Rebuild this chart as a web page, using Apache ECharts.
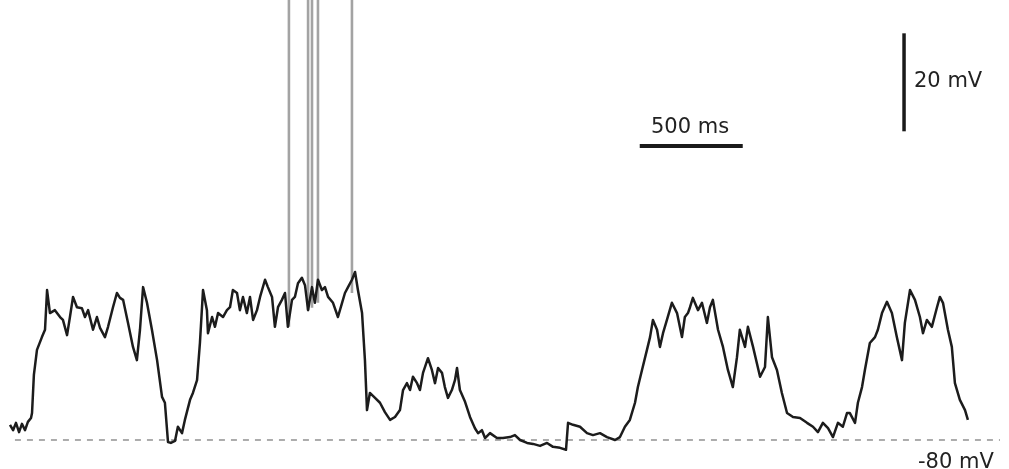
<!DOCTYPE html>
<html>
<head>
<meta charset="utf-8">
<script src="https://cdn.jsdelivr.net/npm/echarts@6/dist/echarts.min.js"></script>
<style>
  html, body { margin: 0; padding: 0; background: #ffffff; }
  #chart { width: 1009px; height: 469px; }
</style>
</head>
<body>
<div id="chart"></div>
<script>
// Membrane potential recording: sample times (ms) and voltage (mV)
const timeMs = [
  0, 15, 29, 44, 58, 73, 87, 102, 107, 116, 131, 155, 170, 180, 194, 218, 243, 257, 277, 291,
  306, 325, 349, 364, 379, 403, 422, 437, 461, 476, 500, 519, 534, 549, 573, 597, 616, 631, 646, 665,
  689, 714, 738, 752, 767, 781, 801, 815, 835, 849, 874, 888, 908, 922, 937, 956, 961, 981, 995, 1010,
  1034, 1053, 1068, 1082, 1102, 1116, 1131, 1150, 1165, 1180, 1199, 1214, 1238, 1252, 1272, 1286, 1301, 1320, 1335, 1349,
  1369, 1383, 1398, 1417, 1432, 1447, 1466, 1480, 1495, 1514, 1529, 1544, 1568, 1592, 1612, 1626, 1641, 1660, 1675, 1689,
  1709, 1723, 1733, 1747, 1772, 1796, 1820, 1845, 1869, 1893, 1908, 1927, 1942, 1956, 1976, 1990, 2005, 2029, 2048, 2063,
  2078, 2097, 2111, 2126, 2145, 2160, 2170, 2184, 2209, 2233, 2257, 2272, 2291, 2306, 2330, 2364, 2393, 2427, 2451, 2476,
  2510, 2539, 2573, 2607, 2636, 2670, 2699, 2709, 2733, 2767, 2801, 2830, 2864, 2898, 2937, 2961, 2985, 3009, 3034, 3048,
  3068, 3092, 3107, 3121, 3141, 3155, 3170, 3189, 3213, 3238, 3262, 3276, 3291, 3301, 3315, 3340, 3359, 3383, 3398, 3412,
  3437, 3461, 3485, 3509, 3529, 3543, 3568, 3582, 3607, 3641, 3665, 3679, 3699, 3723, 3747, 3772, 3801, 3835, 3869, 3898,
  3922, 3946, 3971, 3995, 4019, 4043, 4063, 4077, 4102, 4116, 4136, 4150, 4174, 4199, 4213, 4233, 4257, 4281, 4305, 4330,
  4344, 4369, 4393, 4417, 4432, 4451, 4475, 4500, 4514, 4529, 4553, 4572, 4587, 4611, 4636, 4650
];
const potentialMv = [
  -76.9, -78.0, -76.5, -78.4, -76.7, -78.0, -76.3, -75.5, -74.5, -66.7, -61.6, -59.0, -57.5, -49.4, -54.1, -53.5, -54.9, -55.5, -58.6, -54.9,
  -50.8, -52.9, -53.1, -54.9, -53.5, -57.5, -54.9, -57.1, -59.0, -56.9, -52.9, -50.0, -51.0, -51.4, -56.1, -61.0, -63.7, -57.5, -48.8, -52.0,
  -57.5, -63.7, -71.2, -72.4, -80.4, -80.6, -80.2, -77.3, -78.6, -75.9, -71.8, -70.4, -67.8, -60.2, -49.4, -53.5, -58.2, -54.9, -56.9, -54.1,
  -54.9, -53.5, -52.9, -49.4, -50.0, -53.5, -50.8, -54.1, -50.8, -55.5, -53.5, -50.8, -47.3, -48.8, -50.8, -56.9, -52.9, -51.4, -50.0, -56.9,
  -51.4, -50.8, -48.0, -46.9, -48.4, -53.5, -48.8, -52.0, -47.3, -49.4, -48.8, -50.8, -52.0, -54.9, -52.0, -50.0, -48.8, -47.3, -45.7, -49.4,
  -54.1, -63.7, -73.9, -70.4, -71.4, -72.4, -74.3, -75.9, -75.3, -73.9, -69.8, -68.4, -69.8, -67.1, -68.4, -69.8, -66.3, -63.3, -65.7, -68.4,
  -65.3, -66.3, -69.2, -71.4, -69.8, -67.8, -65.3, -69.8, -72.2, -75.3, -77.6, -78.6, -78.0, -79.6, -78.6, -79.6, -79.6, -79.4, -79.0, -80.0,
  -80.6, -80.8, -81.2, -80.6, -81.4, -81.6, -82.0, -76.5, -76.9, -77.3, -78.6, -79.0, -78.6, -79.4, -80.0, -79.4, -77.3, -75.9, -72.4, -69.2,
  -65.7, -61.6, -59.0, -55.5, -57.5, -61.0, -58.2, -55.5, -52.0, -54.1, -59.0, -54.9, -54.1, -52.9, -51.0, -53.5, -52.0, -56.1, -52.9, -51.4,
  -57.5, -61.0, -65.7, -69.2, -63.1, -57.5, -61.0, -56.9, -61.0, -67.1, -65.1, -54.9, -63.1, -65.7, -70.4, -74.5, -75.3, -75.5, -76.5, -77.3,
  -78.4, -76.5, -77.6, -79.4, -76.5, -77.3, -74.5, -74.5, -76.5, -72.4, -69.2, -65.7, -60.2, -59.0, -57.5, -54.1, -51.8, -54.1, -59.0, -63.7,
  -56.1, -49.4, -51.4, -54.9, -58.2, -55.5, -56.9, -52.9, -50.8, -52.0, -57.5, -61.0, -68.4, -71.8, -73.9, -75.9
];

// Action potentials (overshoot runs past the top of the frame)
const spikeTimesMs = [1354, 1447, 1466, 1495, 1660];
const spikeBaseMv = [-56.9, -53.5, -53.0, -52.0, -50.0];
const spikePeakMv = [20, 20, 20, 20, 20];

// Reference level and calibration bars
const restingLevelMv = -80;
const restingLineSpanMs = [24, 4805];
const timeBarMs = 500;
const voltBarMv = 20;
const restingLabel = '-80 mV';
const timeBarLabel = '500 ms';
const voltBarLabel = '20 mV';

const chart = echarts.init(document.getElementById('chart'), null, { renderer: 'canvas' });

const trace = timeMs.map((t, i) => [t, potentialMv[i]]);
const spikes = spikeTimesMs.map((t, i) => [t, spikeBaseMv[i], spikePeakMv[i]]);

// calibration bar anchors (ms, mV)
const timeBarStart = 3057, timeBarLevel = -20;
const voltBarTime = 4340, voltBarBottom = -17;

const textFont = '"DejaVu Sans", Verdana, sans-serif';

chart.setOption({
  animation: false,
  backgroundColor: '#ffffff',
  grid: { left: 0, right: 0, top: 0, bottom: 0 },
  xAxis: { type: 'value', min: -48.5, max: 4849.5, show: false },
  yAxis: { type: 'value', min: -85.92, max: 9.8, show: false },
  series: [
    {
      // dashed resting level
      type: 'line',
      data: restingLineSpanMs.map(t => [t, restingLevelMv]),
      symbol: 'none',
      lineStyle: { color: '#808080', width: 1.3, type: [6, 6] },
      z: 1
    },
    {
      type: 'custom',
      clip: true,
      data: spikes,
      renderItem: function (params, api) {
        const a = api.coord([api.value(0), api.value(1)]);
        const b = api.coord([api.value(0), api.value(2)]);
        return {
          type: 'line',
          shape: { x1: a[0], y1: a[1], x2: b[0], y2: b[1] },
          style: { stroke: '#a3a3a3', lineWidth: 2.6 }
        };
      },
      z: 2
    },
    {
      type: 'line',
      data: trace,
      symbol: 'none',
      lineStyle: { color: '#1c1c1c', width: 2.5, join: 'round' },
      z: 3
    },
    {
      // time calibration bar
      type: 'line',
      data: [[timeBarStart, timeBarLevel], [timeBarStart + timeBarMs, timeBarLevel]],
      symbol: 'none',
      lineStyle: { color: '#1a1a1a', width: 4, cap: 'butt' },
      z: 3
    },
    {
      // voltage calibration bar
      type: 'line',
      data: [[voltBarTime, voltBarBottom], [voltBarTime, voltBarBottom + voltBarMv]],
      symbol: 'none',
      lineStyle: { color: '#1a1a1a', width: 3.5, cap: 'butt' },
      z: 3
    }
  ],
  graphic: [
    {
      type: 'text', left: 651, top: 117,
      style: { text: timeBarLabel, fill: '#222', font: '21px ' + textFont }
    },
    {
      type: 'text', left: 914, top: 71,
      style: { text: voltBarLabel, fill: '#222', font: '21px ' + textFont }
    },
    {
      type: 'text', left: 918, top: 452,
      style: { text: restingLabel, fill: '#222', font: '21px ' + textFont }
    }
  ]
});
</script>
</body>
</html>
